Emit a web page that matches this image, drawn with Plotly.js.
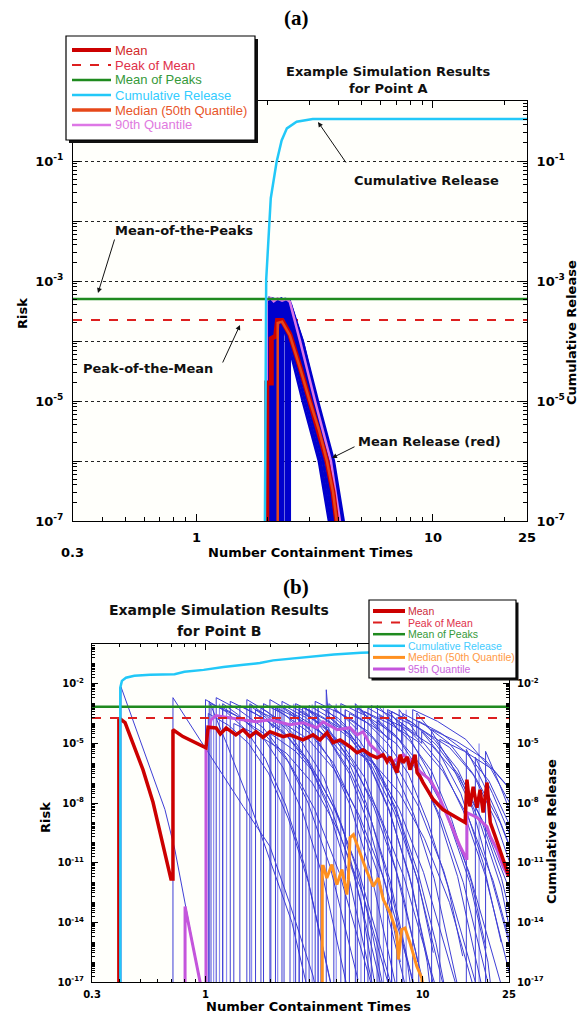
<!DOCTYPE html>
<html><head><meta charset="utf-8">
<script src="https://cdn.plot.ly/plotly-3.0.1.min.js"></script>
<style>html,body{margin:0;padding:0;background:#fff;}#chart{width:582px;height:1014px;}</style>
</head><body><div id="chart"></div>
<script>
// ================= DATA: panel (a) Point A =================
const aXRange = [0.3, 25];
const aMeanOfPeaks = 5.0e-4;
const aPeakOfMean = 2.24e-4;
const aCumX = [1.94, 1.95, 1.97, 2.06, 2.18, 2.29, 2.41, 2.65, 3.10, 25];
const aCumY = [1e-8, 1e-5, 1.05e-3, 0.024, 0.096, 0.22, 0.35, 0.45, 0.50, 0.50];
const aMeanX = [1.981, 1.981, 2.07, 2.07, 2.16, 2.20, 2.30, 2.48, 2.75, 3.01, 3.30, 3.56, 3.78, 3.92, 4.0];
const aMeanY = [1e-8, 2e-5, 2e-5, 1.1e-4, 1.2e-4, 2.2e-4, 2.2e-4, 1.3e-4, 3.5e-5, 1e-5, 3.2e-6, 1e-6, 3e-7, 1e-7, 5e-8];
const aMedianX = [2.204, 2.204, 2.30, 2.48, 2.75, 3.01, 3.30, 3.56, 3.78, 3.92, 4.0];
const aMedianY = [1e-8, 2.0e-4, 2.1e-4, 1.25e-4, 3.4e-5, 1e-5, 3.2e-6, 1e-6, 3e-7, 1e-7, 5e-8];
const aQ90X = [1.981, 1.981, 2.06, 2.12, 2.20, 2.30, 2.40, 2.48, 2.74, 3.17, 3.70, 4.05, 4.15];
const aQ90Y = [1e-8, 4.8e-4, 5.2e-4, 4.6e-4, 5.1e-4, 4.7e-4, 5.0e-4, 4.5e-4, 1e-4, 1e-5, 1e-6, 1e-7, 5e-8];
const aRuns = [
 [[1.981,1e-8],[1.981,4.8e-4],[2.162,4.3e-4],[2.43,1.0e-4],[2.81,1e-5],[3.29,1e-6],[3.63,1e-7],[3.75,3e-8]],
 [[2.000,1e-8],[2.000,4.3e-4],[2.248,4.8e-4],[2.53,1.0e-4],[2.93,1e-5],[3.42,1e-6],[3.77,1e-7],[3.90,3e-8]],
 [[2.039,1e-8],[2.039,5.2e-4],[2.314,4.4e-4],[2.60,1.0e-4],[3.01,1e-5],[3.52,1e-6],[3.88,1e-7],[4.00,3e-8]],
 [[2.079,1e-8],[2.079,4.4e-4],[2.360,5.0e-4],[2.65,1.0e-4],[3.07,1e-5],[3.59,1e-6],[3.95,1e-7],[4.07,3e-8]],
 [[2.120,1e-8],[2.120,5.0e-4],[2.406,4.3e-4],[2.70,1.0e-4],[3.13,1e-5],[3.66,1e-6],[4.04,1e-7],[4.16,3e-8]],
 [[2.162,1e-8],[2.162,4.1e-4],[2.478,4.6e-4],[2.79,1.0e-4],[3.22,1e-5],[3.77,1e-6],[4.15,1e-7],[4.28,3e-8]],
 [[2.204,1e-8],[2.204,4.6e-4],[2.430,4.1e-4],[2.73,1.0e-4],[3.16,1e-5],[3.70,1e-6],[4.08,1e-7],[4.20,3e-8]],
 [[2.248,1e-8],[2.248,4.8e-4],[2.292,4.4e-4],[2.58,1.0e-4],[2.98,1e-5],[3.49,1e-6],[3.84,1e-7],[3.96,3e-8]],
 [[2.314,1e-8],[2.314,4.3e-4],[2.383,3.9e-4],[2.68,1.0e-4],[3.10,1e-5],[3.63,1e-6],[4.00,1e-7],[4.12,3e-8]],
 [[2.383,1e-8],[2.383,3.9e-4],[2.454,4.4e-4],[2.76,1.0e-4],[3.19,1e-5],[3.73,1e-6],[4.12,1e-7],[4.24,3e-8]],
 [[2.430,1e-8],[2.430,4.4e-4],[2.502,4.1e-4],[2.81,1.0e-4],[3.26,1e-5],[3.81,1e-6],[4.19,1e-7],[4.31,3e-8]],
 [[2.478,1e-8],[2.478,3.8e-4],[2.502,3.8e-4],[2.81,1.0e-4],[3.22,1e-5],[3.73,1e-6],[4.08,1e-7],[4.20,3e-8]],
 [[2.019,1e-8],[2.019,3.3e-4],[2.204,3.0e-4],[2.48,1.0e-4],[2.87,1e-5],[3.35,1e-6],[3.70,1e-7],[3.82,3e-8]],
 [[2.270,1e-8],[2.270,5.2e-4],[2.337,4.8e-4],[2.63,1.0e-4],[3.04,1e-5],[3.56,1e-6],[3.92,1e-7],[4.04,3e-8]]
];
const aYTickVals = [1e-7, 1e-6, 1e-5, 1e-4, 1e-3, 1e-2, 1e-1];
const aYTickText = ['10<sup>-7</sup>', ' ', '10<sup>-5</sup>', ' ', '10<sup>-3</sup>', ' ', '10<sup>-1</sup>'];
const aXTickVals = [1, 10, 25];
const aXTickText = ['1', '10', '25'];
const aLegNames = ['Mean', 'Peak of Mean', 'Mean of Peaks', 'Cumulative Release', 'Median (50th Quantile)', '90th Quantile'];

// ================= DATA: panel (b) Point B =================
const bXRange = [0.3, 25];
const bMeanOfPeaks = 6.9e-4;
const bPeakOfMean = 1.9e-4;
const bCumX = [0.405, 0.405, 0.412, 0.43, 0.47, 0.555, 0.72, 0.80, 0.98, 1.21, 1.5, 1.78, 2.05, 2.66, 3.9, 5.2, 9.7, 25];
const bCumY = [1e-18, 6.3e-3, 1.4e-2, 2e-2, 2.5e-2, 2.8e-2, 3e-2, 4e-2, 5e-2, 7e-2, 0.09, 0.11, 0.15, 0.2, 0.3, 0.36, 0.45, 0.5];
const bMeanX = [0.399,0.399,0.426,0.463,0.515,0.573,0.693,0.708,0.708,0.787,0.904,1.005,1.027,1.12,1.17,1.245,1.38,1.49,1.60,1.71,1.84,1.98,2.28,2.45,2.81,3.13,3.37,3.63,3.87,4.17,4.63,4.99,5.32,5.73,6.17,6.58,6.86,7.08,7.62,7.87,8.13,8.49,8.75,9.23,9.43,9.73,10.05,11.2,12.4,15.7,16.0,16.5,17.1,17.8,18.4,19.0,19.8,20.5,21.6,23.2,24.8,25];
const bMeanY = [1e-18,1.9e-4,1.1e-4,1.1e-5,4.8e-7,1.1e-8,1.5e-12,1.5e-12,4.9e-5,2.2e-5,1.1e-5,6e-6,6.5e-5,6e-5,3e-5,6e-5,2.7e-5,4.9e-5,2.2e-5,3.9e-5,2e-5,3.9e-5,2.2e-5,2.7e-5,1.5e-5,2.7e-5,1.5e-5,3.5e-5,1.1e-5,1.5e-5,6.8e-6,3.4e-6,4.8e-6,2.7e-6,1.9e-6,2.7e-6,1.2e-6,2.1e-6,3.4e-7,2.7e-6,1.07e-6,2.1e-6,4.8e-7,2.7e-6,3.4e-7,2.1e-7,1.07e-7,1.5e-8,4.7e-9,1.05e-9,1.5e-7,6.8e-9,6.6e-8,5.9e-9,4.7e-8,3.3e-9,1.07e-7,1.05e-9,2.1e-10,2e-11,2.6e-12,2e-12];
const bQ95X = [0.805,0.805,0.944,0.96,null,1.005,1.005,1.06,1.12,1.20,1.30,1.49,1.71,1.98,2.45,2.81,3.26,3.48,4.04,4.63,4.99,5.32,5.73,6.58,7.31,8.13,9.03,9.73,10.8,11.7,13.4,14.9,16.0,16.0,17.8,19.8,20.5,22.0,23.5,24.8];
const bQ95Y = [1e-18,6.3e-14,1e-17,1e-18,null,1e-18,6.9e-6,1.55e-4,2.5e-4,2.2e-4,1.9e-4,1.55e-4,1.23e-4,1.55e-4,8.7e-5,1.1e-4,6.2e-5,1.23e-4,4.9e-5,6.2e-5,2.7e-5,3.9e-5,8.6e-6,2.1e-6,1.2e-6,2.7e-6,1.2e-6,3.8e-7,1.5e-7,3.3e-8,1.05e-9,6.5e-11,1.4e-11,3.3e-9,1.9e-9,6.5e-10,2.1e-10,4.6e-11,6.3e-12,2e-12];
const bMedianX = [3.45,3.45,3.49,3.62,3.82,3.88,4.03,4.25,4.48,4.55,4.63,4.80,4.98,5.15,5.53,5.93,6.25,6.59,7.08,7.60,7.73,8.01,8.30,8.75,9.40,9.91,10.2];
const bMedianY = [1e-18,6.6e-12,6.6e-12,1.7e-12,8e-12,3.7e-12,8e-13,4.5e-12,2.5e-13,1.4e-12,1.8e-10,2.6e-10,8e-11,3.1e-11,3.7e-12,6.5e-13,1.7e-12,1.4e-13,3e-14,3e-15,1.35e-16,4.4e-15,5.2e-15,9.3e-16,6.2e-17,1.6e-17,1e-18];
const bRuns = [
 [[0.408,1e-18],[0.408,7e-3],[0.499,1.5e-5],[0.650,4.8e-9],[0.722,4.7e-11],[0.805,1e-13],[0.944,1e-17],[0.97,1e-18]],
 [[0.708,1e-18],[0.708,2e-3],[0.944,1.5e-5],[1.49,6.8e-9],[1.98,6.6e-11],[2.45,8e-14],[3.13,2e-17],[3.3,1e-18]],
 [[1.04,1e-18],[1.04,1.3e-3],[1.25,1e-5],[1.6,1e-8],[2.0,1e-11],[2.5,1e-14],[2.9,1e-17],[3.0,1e-18]],
 [[1.00,1e-18],[1.00,1.6e-3],[1.24,4e-4],[1.53,5e-5],[1.89,1.6e-6],[2.34,8e-9],[2.89,5e-12],[3.39,1.6e-15],[3.77,1e-17]],
 [[1.06,1e-18],[1.06,1e-3],[1.38,2.5e-4],[1.86,3.2e-5],[2.44,1e-6],[3.18,5e-9],[4.13,3.2e-12],[5.09,1e-15],[5.83,6.3e-18]],
 [[1.12,1e-18],[1.12,2e-3],[1.42,5e-4],[1.84,6.3e-5],[2.35,2e-6],[2.97,1e-8],[3.75,6.3e-12],[4.48,2e-15],[5.04,1.3e-17]],
 [[1.20,1e-18],[1.20,6.3e-4],[1.49,1.6e-4],[1.84,2e-5],[2.27,6.3e-7],[2.81,3.2e-9],[3.47,2e-12],[4.07,6.3e-16],[4.52,4e-18]],
 [[1.30,1e-18],[1.30,1.3e-3],[1.69,3.2e-4],[2.28,4e-5],[2.99,1.3e-6],[3.90,6.3e-9],[5.07,4e-12],[6.24,1.3e-15],[7.15,8e-18]],
 [[1.44,1e-18],[1.44,8e-4],[1.83,2e-4],[2.36,2.5e-5],[3.02,8e-7],[3.82,4e-9],[4.82,2.5e-12],[5.76,8e-16],[6.48,5e-18]],
 [[1.55,1e-18],[1.55,1.6e-3],[1.92,4e-4],[2.37,5e-5],[2.93,1.6e-6],[3.63,8e-9],[4.48,5e-12],[5.25,1.6e-15],[5.84,1e-17]],
 [[1.70,1e-18],[1.70,5e-4],[2.21,1.3e-4],[2.98,1.6e-5],[3.91,5e-7],[5.10,2.5e-9],[6.63,1.6e-12],[8.16,5e-16],[9.35,3.2e-18]],
 [[1.85,1e-18],[1.85,1e-3],[2.35,2.5e-4],[3.03,3.2e-5],[3.89,1e-6],[4.90,5e-9],[6.20,3.2e-12],[7.40,1e-15],[8.33,6.3e-18]],
 [[1.98,1e-18],[1.98,1.6e-3],[2.46,4e-4],[3.03,5e-5],[3.74,1.6e-6],[4.63,8e-9],[5.72,5e-12],[6.71,1.6e-15],[7.46,1e-17]],
 [[2.10,1e-18],[2.10,6.3e-4],[2.73,1.6e-4],[3.68,2e-5],[4.83,6.3e-7],[6.30,3.2e-9],[8.19,2e-12],[10.1,6.3e-16],[11.6,4e-18]],
 [[2.25,1e-18],[2.25,1.3e-3],[2.86,3.2e-4],[3.69,4e-5],[4.73,1.3e-6],[5.96,6.3e-9],[7.54,4e-12],[9.0,1.3e-15],[10.1,8e-18]],
 [[2.45,1e-18],[2.45,4e-4],[3.04,1e-4],[3.75,1.3e-5],[4.63,4e-7],[5.73,2e-9],[7.08,1.3e-12],[8.31,4e-16],[9.24,2.5e-18]],
 [[2.60,1e-18],[2.60,1e-3],[3.38,2.5e-4],[4.55,3.2e-5],[5.98,1e-6],[7.80,5e-9],[10.1,3.2e-12],[12.5,1e-15],[14.3,6.3e-18]],
 [[2.80,1e-18],[2.80,6.3e-4],[3.56,1.6e-4],[4.59,2e-5],[5.88,6.3e-7],[7.42,3.2e-9],[9.38,2e-12],[11.2,6.3e-16],[12.6,4e-18]],
 [[3.00,1e-18],[3.00,8e-4],[3.72,2e-4],[4.59,2.5e-5],[5.67,8e-7],[7.02,4e-9],[8.67,2.5e-12],[10.2,8e-16],[11.3,5e-18]],
 [[3.20,1e-18],[3.20,1.3e-3],[4.16,3.2e-4],[5.60,4e-5],[7.36,1.3e-6],[9.60,6.3e-9],[12.5,4e-12],[15.4,1.3e-15],[17.6,8e-18]],
 [[3.60,1e-18],[3.60,5e-3],[3.68,2.5e-4],[4.6,3e-5],[5.9,1e-6],[7.56,5e-9],[9.54,3e-12],[11.5,1e-15],[12.5,1e-17]],
 [[3.90,1e-18],[3.90,5e-4],[4.84,1.3e-4],[5.97,1.6e-5],[7.37,5e-7],[9.13,2.5e-9],[11.3,1.6e-12],[13.2,5e-16],[14.7,3.2e-18]],
 [[4.20,1e-18],[4.20,1e-3],[5.46,2.5e-4],[7.35,3.2e-5],[9.66,1e-6],[12.6,5e-9],[16.4,3.2e-12],[20.2,1e-15],[23.1,6.3e-18]],
 [[4.60,1e-18],[4.60,3.2e-4],[5.84,8e-5],[7.54,1e-5],[9.66,3.2e-7],[12.2,1.6e-9],[15.4,1e-12],[18.4,3.2e-16],[20.7,2e-18]],
 [[5.00,1e-18],[5.00,6.3e-4],[6.20,1.6e-4],[7.65,2e-5],[9.45,6.3e-7],[11.7,3.2e-9],[14.5,2e-12],[17.0,6.3e-16],[18.9,4e-18]],
 [[5.40,1e-18],[5.40,4e-4],[7.02,1e-4],[9.45,1.3e-5],[12.4,4e-7],[16.2,2e-9],[21.1,1.3e-12],[25.9,4e-16]],
 [[5.80,1e-18],[5.80,8e-4],[7.37,2e-4],[9.51,2.5e-5],[12.2,8e-7],[15.4,4e-9],[19.4,2.5e-12],[23.2,8e-16],[26.1,5e-18]],
 [[6.30,1e-18],[6.30,2.5e-4],[8.19,6.3e-5],[11.0,8e-6],[14.5,2.5e-7],[18.9,1.3e-9],[24.6,8e-13],[30.2,2.5e-16]],
 [[6.90,1e-18],[6.90,5e-4],[8.76,1.3e-4],[11.3,1.6e-5],[14.5,5e-7],[18.3,2.5e-9],[23.1,1.6e-12],[27.6,5e-16]],
 [[7.60,1e-18],[7.60,2e-4],[9.88,5e-5],[13.3,6.3e-6],[17.5,2e-7],[22.8,1e-9],[29.6,6.3e-13]],
 [[8.10,1e-18],[8.10,3.2e-4],[10.3,8e-5],[13.3,1e-5],[17.0,3.2e-7],[21.5,1.6e-9],[27.1,1e-12]],
 [[9.00,1e-18],[9.00,5e-4],[11.7,1.3e-4],[15.8,1.6e-5],[20.7,5e-7],[27.0,2.5e-9]],
 [[9.60,1e-18],[9.60,1.3e-4],[12.2,3.2e-5],[15.7,4e-6],[20.2,1.3e-7],[25.4,6.3e-10]],
 [[15.9,1e-18],[15.9,5e-6],[19.0,1e-7],[22.0,3e-9],[25.5,5e-11]],
 [[17.5,1e-18],[17.5,2e-6],[21.0,3e-8],[25.5,2e-10]],
 [[19.5,1e-18],[19.5,4e-6],[22.5,1e-7],[25.5,3e-9]],
 [[1.03,1e-18],[1.03,3.2e-4],[1.28,8e-5],[1.58,1e-5],[1.95,3.2e-7],[2.41,1.6e-9],[2.98,1e-12],[3.49,3.2e-16],[3.88,2e-18]],
 [[1.35,1e-18],[1.35,1e-4],[1.76,2.5e-5],[2.36,3.2e-6],[3.11,1e-7],[4.05,5e-10],[5.27,3.2e-13],[6.48,1e-16],[7.43,6.3e-19]],
 [[12.0,1e-18],[12.0,1.6e-5],[15.6,4e-6],[21.0,5e-7],[27.6,1.6e-8]],
 [[3.40,1e-18],[3.40,3.2e-5],[4.42,8e-6],[5.95,1e-6],[7.82,3.2e-8],[10.2,1.6e-10],[13.3,1e-13],[16.3,3.2e-17],[18.7,2e-19]],
 [[11.0,1e-18],[11.0,5e-5],[14.3,1.3e-5],[19.3,1.6e-6],[25.3,5e-8]],
 [[1.6,1e-18],[1.6,8e-4],[1.9,2e-4],[2.05,6e-5],[2.05,7e-4],[2.4,2e-4],[2.7,5e-5],[2.7,6e-4],[3.2,1.5e-4],[3.6,3e-5],[3.6,5e-4],[4.5,5e-5],[5.5,2e-6],[7.0,5e-9],[9.0,5e-13],[10.5,1e-16],[11,1e-18]],
 [[4.9,1e-18],[4.9,1e-3],[5.6,2e-4],[6.2,5e-5],[6.2,8e-4],[7.0,2e-4],[7.8,4e-5],[7.8,5e-4],[8.6,1.2e-4],[9.4,3e-5],[9.4,3.4e-4],[11,4e-5],[13.5,1e-6],[17,5e-9],[21,1e-12],[25,1e-15]],
 [[2.9,1e-18],[2.9,6e-4],[3.3,1.6e-4],[3.7,4e-5],[3.7,1e-3],[4.3,2.5e-4],[5.0,5e-5],[5.0,6e-4],[6.0,1e-4],[7.0,1.5e-5],[7.0,4e-4],[8.5,3e-5],[10.5,5e-7],[13,2e-9],[16.5,1e-12],[20,1e-16],[21,1e-18]],
 [[6.17,1e-18],[6.17,1.5e-4],[6.8,5e-5],[8.0,1.2e-5],[8.0,1.1e-4],[9.0,3e-5],[9.9,1e-5],[9.9,4e-5],[12,3e-6],[15,3e-8],[19,1e-11],[23,1e-15]],
 [[1.2,1e-18],[1.2,1e-3],[1.4,3e-4],[1.6,8e-5],[1.6,1e-3],[1.9,2.5e-4],[2.2,6e-5],[2.2,8e-4],[2.6,2e-4],[3.0,5e-5],[3.0,5e-4],[3.6,8e-5],[4.4,3e-6],[5.5,1e-8],[7,1e-12],[8.5,1e-16],[9,1e-18]],
 [[1.8,1e-18],[1.8,6e-4],[2.2,1.5e-4],[2.8,1e-5],[3.5,2e-7],[4.3,5e-10],[5.2,1e-13],[6.0,1e-17]],
 [[2.3,1e-18],[2.3,8e-4],[2.9,2e-4],[3.7,1.5e-5],[4.6,3e-7],[5.6,1e-9],[6.8,5e-13],[7.9,1e-16]],
 [[2.7,1e-18],[2.7,4e-4],[3.4,1e-4],[4.3,8e-6],[5.4,2e-7],[6.6,6e-10],[8.1,3e-13],[9.5,1e-16]],
 [[3.3,1e-18],[3.3,7e-4],[4.1,1.8e-4],[5.1,1.5e-5],[6.3,4e-7],[7.8,1.5e-9],[9.6,8e-13],[11.2,3e-16]],
 [[4.4,1e-18],[4.4,5e-4],[5.5,1.2e-4],[6.9,1e-5],[8.6,3e-7],[10.6,1e-9],[13.1,6e-13],[15.3,2e-16]],
 [[2.0,1e-18],[2.0,3e-5],[2.6,4e-6],[3.3,2e-7],[4.1,2e-9],[5.0,4e-12],[5.9,2e-15],[6.5,1e-17]],
 [[5.6,1e-18],[5.6,6e-4],[7.0,1.5e-4],[8.8,1.2e-5],[11.0,4e-7],[13.6,1.5e-9],[16.8,1e-12],[19.6,5e-16]],
 [[7.2,1e-18],[7.2,4e-4],[9.1,1e-4],[11.6,8e-6],[14.7,2.5e-7],[18.4,1e-9],[23.0,6e-13],[27,1e-16]]
];
const bSpikeX = [1.09, 1.16, 1.25, 1.63, 2.15, 2.55, 2.7, 3.1, 3.3, 4.0, 4.4, 5.2, 6.6, 7.2, 8.4, 18.2];
const bSpikeTop = [8e-4, 1e-3, 6e-4, 9e-4, 8e-4, 1e-3, 6e-4, 9e-4, 7e-4, 1e-3, 5e-4, 8e-4, 6e-4, 4e-4, 5e-4, 1e-5];
const bYTickVals = [1e-17, 1e-14, 1e-11, 1e-8, 1e-5, 1e-2];
const bYTickText = ['10<sup>-17</sup>', '10<sup>-14</sup>', '10<sup>-11</sup>', '10<sup>-8</sup>', '10<sup>-5</sup>', '10<sup>-2</sup>'];
const bXTickVals = [0.3, 1, 10, 25];
const bXTickText = ['0.3', '1', '10', '25'];
const bLegNames = ['Mean', 'Peak of Mean', 'Mean of Peaks', 'Cumulative Release', 'Median (50th Quantile)', '95th Quantile'];

// ================= STYLE / LAYOUT =================
const W = 582, H = 1014;
const X = px => px / W;
const Y = py => 1 - py / H;
const BOLD = 'DejaVu Sans, Verdana, sans-serif';
const SANS = 'Liberation Sans, Arial, sans-serif';

function runsToXY(runs) {
  const x = [], y = [];
  runs.forEach(r => { r.forEach(p => { x.push(p[0]); y.push(p[1]); }); x.push(null); y.push(null); });
  return { x, y };
}
function spikesToXY(xs, tops, base) {
  const x = [], y = [];
  xs.forEach((v, i) => { x.push(v, v, null); y.push(base, tops[i], null); });
  return { x, y };
}

const aBlue = runsToXY(aRuns);
const bBlue = runsToXY(bRuns);
const bSp = spikesToXY(bSpikeX, bSpikeTop, 1e-18);

const traces = [
  // ---- panel a ----
  { x: aXRange, y: [aPeakOfMean, aPeakOfMean], xaxis: 'x', yaxis: 'y', mode: 'lines', line: { color: '#dd1f1f', width: 2, dash: 'dash' } },
  { x: aBlue.x, y: aBlue.y, xaxis: 'x', yaxis: 'y', mode: 'lines', line: { color: '#0000cc', width: 2.6 } },
  { x: aQ90X, y: aQ90Y, xaxis: 'x', yaxis: 'y', mode: 'lines', line: { color: '#dd77e6', width: 2.5 } },
  { x: aMeanX, y: aMeanY, xaxis: 'x', yaxis: 'y', mode: 'lines', line: { color: '#cc0000', width: 5 } },
  { x: aMedianX, y: aMedianY, xaxis: 'x', yaxis: 'y', mode: 'lines', line: { color: '#e6481a', width: 2.5 } },
  { x: aXRange, y: [aMeanOfPeaks, aMeanOfPeaks], xaxis: 'x', yaxis: 'y', mode: 'lines', line: { color: '#1f8a1f', width: 2.5 } },
  { x: aCumX, y: aCumY, xaxis: 'x', yaxis: 'y3', mode: 'lines', line: { color: '#22c8f8', width: 2.5 } },
  // ---- panel b ----
  { x: bSp.x, y: bSp.y, xaxis: 'x2', yaxis: 'y2', mode: 'lines', line: { color: '#8c8cf2', width: 1.2 } },
  { x: bBlue.x, y: bBlue.y, xaxis: 'x2', yaxis: 'y2', mode: 'lines', opacity: 0.85, line: { color: '#1e1ed0', width: 1 } },
  { x: bCumX, y: bCumY, xaxis: 'x2', yaxis: 'y4', mode: 'lines', line: { color: '#22c8f8', width: 2.5 } },
  { x: bQ95X, y: bQ95Y, xaxis: 'x2', yaxis: 'y2', mode: 'lines', line: { color: '#c455dc', width: 3 } },
  { x: bMeanX, y: bMeanY, xaxis: 'x2', yaxis: 'y2', mode: 'lines', line: { color: '#cc0000', width: 3.5 } },
  { x: bMedianX, y: bMedianY, xaxis: 'x2', yaxis: 'y2', mode: 'lines', line: { color: '#ff9020', width: 3 } },
  { x: bXRange, y: [bMeanOfPeaks, bMeanOfPeaks], xaxis: 'x2', yaxis: 'y2', mode: 'lines', line: { color: '#1f8a1f', width: 2.5 } },
  { x: bXRange, y: [bPeakOfMean, bPeakOfMean], xaxis: 'x2', yaxis: 'y2', mode: 'lines', line: { color: '#dd1f1f', width: 2, dash: 'dash' } }
];
traces.forEach(t => { t.showlegend = false; t.hoverinfo = 'skip'; });

const aDom = { x: [X(73), X(527)], y: [Y(521), Y(101)] };
const bDom = { x: [X(92), X(509)], y: [Y(982), Y(644)] };
const tickA = { family: BOLD, size: 13, color: '#000', weight: 'bold' };
const tickB = { family: BOLD, size: 10, color: '#000', weight: 'bold' };

const yA = {
  type: 'log', range: [-7, 0], domain: aDom.y, anchor: 'x',
  tickmode: 'array', tickvals: aYTickVals, ticktext: aYTickText, tickfont: tickA,
  ticks: 'inside', ticklen: 7, tickcolor: '#000', ticklabelstandoff: 6,
  showgrid: true, gridcolor: '#222', griddash: 'dot', gridwidth: 1,
  showline: true, linecolor: '#000', linewidth: 1, zeroline: false,
  minor: { ticks: 'inside', ticklen: 4, dtick: 'D1', tickcolor: '#000', showgrid: false }
};
const yB = {
  type: 'log', range: [-17, 0], domain: bDom.y, anchor: 'x2',
  tickmode: 'array', tickvals: bYTickVals, ticktext: bYTickText, tickfont: tickB,
  ticks: 'inside', ticklen: 6, tickcolor: '#000', ticklabelstandoff: 5,
  showgrid: false, showline: true, linecolor: '#000', linewidth: 1, zeroline: false,
  minor: { ticks: 'inside', ticklen: 3, dtick: 'D1', tickcolor: '#000', showgrid: false }
};

const shapes = [];
const annotations = [];
function txt(x, y, text, font, extra) {
  annotations.push(Object.assign({ xref: 'paper', yref: 'paper', x: X(x), y: Y(y), text: text, showarrow: false,
    xanchor: 'center', yanchor: 'middle', font: font }, extra || {}));
}
function arrow(hx, hy, tx, ty) {
  annotations.push({ xref: 'paper', yref: 'paper', x: X(hx), y: Y(hy), ax: tx - hx, ay: ty - hy, text: '',
    showarrow: true, arrowhead: 2, arrowsize: 1, arrowwidth: 1, arrowcolor: '#111' });
}
function legend(L, names, tcol, lcol, lw, ld) {
  shapes.push({ type: 'rect', xref: 'paper', yref: 'paper', layer: 'above', x0: X(L.x0 + L.sh), x1: X(L.x1 + L.sh),
    y0: Y(L.y0 + L.sh), y1: Y(L.y1 + L.sh), fillcolor: '#111', line: { width: 0 } });
  shapes.push({ type: 'rect', xref: 'paper', yref: 'paper', layer: 'above', x0: X(L.x0), x1: X(L.x1),
    y0: Y(L.y0), y1: Y(L.y1), fillcolor: '#fff', line: { color: '#000', width: 1.2 } });
  names.forEach((n, i) => {
    const yy = L.ty0 + i * L.dy;
    shapes.push({ type: 'line', xref: 'paper', yref: 'paper', layer: 'above', x0: X(L.lx0), x1: X(L.lx1), y0: Y(yy), y1: Y(yy),
      line: { color: lcol[i], width: lw[i], dash: ld[i] } });
    txt(L.tx, yy, n, { family: SANS, size: L.font, color: tcol[i] }, { xanchor: 'left' });
  });
}

// panel labels and titles
txt(296, 18, '(a)', { family: 'Liberation Serif, Times New Roman, serif', size: 21, color: '#000', weight: 'bold' });
txt(296, 587, '(b)', { family: 'Liberation Serif, Times New Roman, serif', size: 21, color: '#000', weight: 'bold' });
txt(388, 71, 'Example Simulation Results', { family: BOLD, size: 13, color: '#111', weight: 'bold' });
txt(388, 88, 'for Point A', { family: BOLD, size: 13, color: '#111', weight: 'bold' });
txt(219, 610, 'Example Simulation Results', { family: BOLD, size: 14, color: '#111', weight: 'bold' });
txt(219, 631, 'for Point B', { family: BOLD, size: 14, color: '#111', weight: 'bold' });
// axis titles
txt(22, 314, 'Risk', { family: BOLD, size: 13, color: '#000', weight: 'bold' }, { textangle: -90 });
txt(571, 333, 'Cumulative Release', { family: BOLD, size: 13, color: '#000', weight: 'bold' }, { textangle: -90 });
txt(310, 552, 'Number Containment Times', { family: BOLD, size: 13, color: '#000', weight: 'bold' });
txt(72, 552, '0.3', { family: BOLD, size: 13, color: '#000', weight: 'bold' });
txt(45, 818, 'Risk', { family: BOLD, size: 13, color: '#000', weight: 'bold' }, { textangle: -90 });
txt(551, 832, 'Cumulative Release', { family: BOLD, size: 13, color: '#000', weight: 'bold' }, { textangle: -90 });
txt(308, 1006, 'Number Containment Times', { family: BOLD, size: 13, color: '#000', weight: 'bold' });
// callouts panel a
txt(426, 180, 'Cumulative Release', { family: BOLD, size: 13, color: '#111', weight: 'bold' });
arrow(318, 122, 347, 164);
txt(184, 230, 'Mean-of-the-Peaks', { family: BOLD, size: 13, color: '#111', weight: 'bold' });
arrow(98, 293, 115, 238);
txt(148, 368, 'Peak-of-the-Mean', { family: BOLD, size: 13, color: '#111', weight: 'bold' });
arrow(240, 325, 222, 364);
txt(429, 441, 'Mean Release (red)', { family: BOLD, size: 13, color: '#111', weight: 'bold' });
arrow(332, 458, 356, 446);

legend({ x0: 66, y0: 36, x1: 255, y1: 140, sh: 3, lx0: 72, lx1: 111, tx: 113, ty0: 50, dy: 15, font: 13 }, aLegNames,
  ['#d22a2a', '#e0304a', '#35993a', '#33ccff', '#e8552a', '#e07ae0'],
  ['#cc0000', '#dd1f1f', '#1f8a1f', '#22c8f8', '#e6481a', '#dd77e6'],
  [4, 2, 2.5, 2.5, 3.5, 2.5], ['solid', 'dash', 'solid', 'solid', 'solid', 'solid']);
legend({ x0: 369, y0: 600, x1: 516, y1: 678, sh: 2.5, lx0: 373, lx1: 405, tx: 406, ty0: 611, dy: 11.6, font: 10.5 }, bLegNames,
  ['#cc2a3a', '#e0304a', '#35993a', '#44ccff', '#ff9944', '#cc66dd'],
  ['#cc0000', '#dd1f1f', '#1f8a1f', '#22c8f8', '#ff9020', '#c455dc'],
  [4, 2, 2.5, 2.5, 3, 3], ['solid', 'dash', 'solid', 'solid', 'solid', 'solid']);

const layout = {
  width: W, height: H, autosize: false, margin: { l: 0, r: 0, t: 0, b: 0 },
  paper_bgcolor: '#ffffff', plot_bgcolor: '#fffffb', showlegend: false,
  xaxis: {
    type: 'log', range: [Math.log10(aXRange[0]), Math.log10(aXRange[1])], domain: aDom.x, anchor: 'y',
    tickmode: 'array', tickvals: aXTickVals, ticktext: aXTickText, tickfont: tickA,
    ticks: 'inside', ticklen: 7, tickcolor: '#000', ticklabelstandoff: 4, mirror: 'ticks',
    showgrid: false, showline: true, linecolor: '#000', linewidth: 1, zeroline: false,
    minor: { ticks: 'inside', ticklen: 4, dtick: 'D1', tickcolor: '#000', showgrid: false }
  },
  yaxis: yA,
  yaxis3: Object.assign({}, yA, { overlaying: 'y', side: 'right', showgrid: false, anchor: 'x' }),
  xaxis2: {
    type: 'log', range: [Math.log10(bXRange[0]), Math.log10(bXRange[1])], domain: bDom.x, anchor: 'y2',
    tickmode: 'array', tickvals: bXTickVals, ticktext: bXTickText, tickfont: tickB,
    ticks: 'inside', ticklen: 6, tickcolor: '#000', ticklabelstandoff: 3, mirror: 'ticks',
    showgrid: false, showline: true, linecolor: '#000', linewidth: 1, zeroline: false,
    minor: { ticks: 'inside', ticklen: 3, dtick: 'D1', tickcolor: '#000', showgrid: false }
  },
  yaxis2: yB,
  yaxis4: Object.assign({}, yB, { overlaying: 'y2', side: 'right', anchor: 'x2' }),
  shapes: shapes,
  annotations: annotations
};

Plotly.newPlot('chart', traces, layout, { staticPlot: true, displayModeBar: false });
</script>
</body></html>
